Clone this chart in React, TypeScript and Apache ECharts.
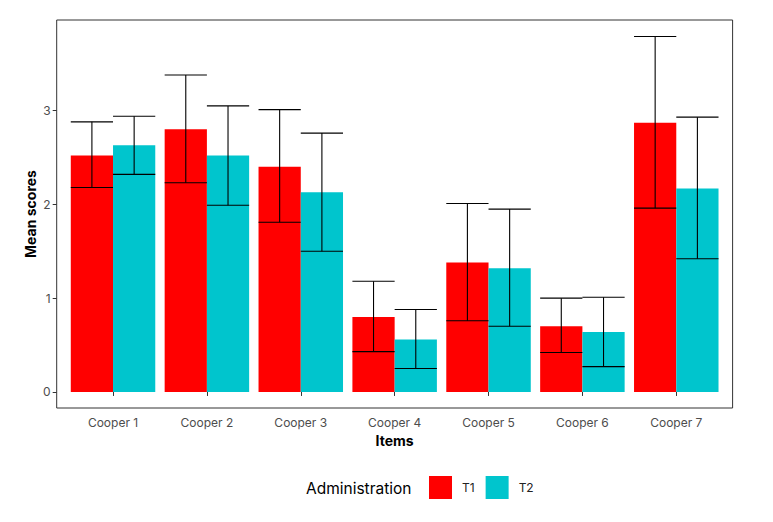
import React, { useEffect, useRef } from "react";
import * as echarts from "echarts";

// Cooper items and mean scores per administration
const categories = ["Cooper 1", "Cooper 2", "Cooper 3", "Cooper 4", "Cooper 5", "Cooper 6", "Cooper 7"];
const t1Mean = [2.52, 2.8, 2.4, 0.8, 1.38, 0.7, 2.87];
const t1Lower = [2.18, 2.23, 1.81, 0.43, 0.76, 0.42, 1.96];
const t1Upper = [2.88, 3.38, 3.01, 1.18, 2.01, 1.0, 3.79];
const t2Mean = [2.63, 2.52, 2.13, 0.56, 1.32, 0.64, 2.17];
const t2Lower = [2.32, 1.99, 1.5, 0.25, 0.7, 0.27, 1.42];
const t2Upper = [2.94, 3.05, 2.76, 0.88, 1.95, 1.01, 2.93];
const yTicks = [0, 1, 2, 3];

const RED = "#FF0000";
const CYAN = "#00C5CD";
const FONT = "Inter, 'Noto Sans', sans-serif";

// panel frame (ggplot-like expanded panel)
const PANEL = { x0: 56.7, x1: 732.6, y0: 20, y1: 408 };
const BAND = (PANEL.x1 - PANEL.x0) / (categories.length + 0.2);
const PAD = BAND * 0.1;

function errorSeries(name: string, lower: number[], upper: number[], side: number) {
  return {
    type: "custom",
    name: name + " error",
    z: 5,
    data: categories.map((_, i) => [i, lower[i], upper[i]]),
    renderItem: (params: any, api: any) => {
      const idx = api.value(0);
      const lo = api.coord([idx, api.value(1)]);
      const hi = api.coord([idx, api.value(2)]);
      const band = api.size([1, 0])[0];
      const barW = band * 0.45;
      const cx = lo[0] + (side * barW) / 2;
      const style = { stroke: "#000", lineWidth: 1.1 };
      return {
        type: "group",
        children: [
          { type: "line", shape: { x1: cx, y1: lo[1], x2: cx, y2: hi[1] }, style },
          { type: "line", shape: { x1: cx - barW / 2, y1: lo[1], x2: cx + barW / 2, y2: lo[1] }, style },
          { type: "line", shape: { x1: cx - barW / 2, y1: hi[1], x2: cx + barW / 2, y2: hi[1] }, style },
        ],
      };
    },
  };
}

export default function App() {
  const ref = useRef<HTMLDivElement>(null);

  useEffect(() => {
    document.body.style.margin = "0";
    const chart = echarts.init(ref.current!, null, { renderer: "svg" });
    chart.setOption({
      animation: false,
      backgroundColor: "#fff",
      textStyle: { fontFamily: FONT },
      grid: {
        left: PANEL.x0 + PAD,
        right: 773 - (PANEL.x1 - PAD),
        top: PANEL.y0,
        bottom: 522 - PANEL.y1,
        containLabel: false,
      },
      xAxis: {
        type: "category",
        data: categories,
        axisLine: { show: false },
        axisTick: { show: true, alignWithLabel: true, length: 4, lineStyle: { color: "#333", width: 1 } },
        axisLabel: { color: "#4D4D4D", fontSize: 12, margin: 8, fontFamily: FONT },
        splitLine: { show: false },
      },
      yAxis: {
        type: "value",
        min: -0.171,
        max: 3.966,
        offset: PAD,
        axisLine: { show: false },
        axisTick: { show: true, length: 4, customValues: yTicks, lineStyle: { color: "#333", width: 1 } },
        axisLabel: { color: "#4D4D4D", fontSize: 12, margin: 6, customValues: yTicks, fontFamily: FONT },
        splitLine: { show: false },
      },
      legend: {
        data: ["T1", "T2"],
        left: 429,
        top: 476,
        padding: 0,
        icon: "rect",
        itemWidth: 23,
        itemHeight: 23,
        itemGap: 11,
        textStyle: { fontSize: 12, color: "#222", fontFamily: FONT, padding: [0, 0, 0, 5] },
      },
      series: [
        {
          type: "bar",
          name: "T1",
          data: t1Mean,
          itemStyle: { color: RED },
          barGap: "0%",
          barCategoryGap: "10%",
        },
        {
          type: "bar",
          name: "T2",
          data: t2Mean,
          itemStyle: { color: CYAN },
          barGap: "0%",
          barCategoryGap: "10%",
        },
        errorSeries("T1", t1Lower, t1Upper, -1),
        errorSeries("T2", t2Lower, t2Upper, 1),
      ],
      graphic: [
        {
          type: "rect",
          z: 10,
          shape: { x: PANEL.x0, y: PANEL.y0, width: PANEL.x1 - PANEL.x0, height: PANEL.y1 - PANEL.y0 },
          style: { fill: "none", stroke: "#333", lineWidth: 1 },
          silent: true,
        },
        {
          type: "text",
          x: (PANEL.x0 + PANEL.x1) / 2,
          y: 440,
          style: { text: "Items", fontSize: 14, fontWeight: "bold", fill: "#000", align: "center", verticalAlign: "middle", fontFamily: FONT },
        },
        {
          type: "text",
          x: 30,
          y: (PANEL.y0 + PANEL.y1) / 2,
          rotation: Math.PI / 2,
          style: { text: "Mean scores", fontSize: 14, fontWeight: "bold", fill: "#000", align: "center", verticalAlign: "middle", fontFamily: FONT },
        },
        {
          type: "text",
          x: 306,
          y: 488,
          style: { text: "Administration", fontSize: 15.5, fill: "#000", align: "left", verticalAlign: "middle", fontFamily: FONT },
        },
      ],
    });
    return () => chart.dispose();
  }, []);

  return <div ref={ref} style={{ width: 773, height: 522 }} />;
}
